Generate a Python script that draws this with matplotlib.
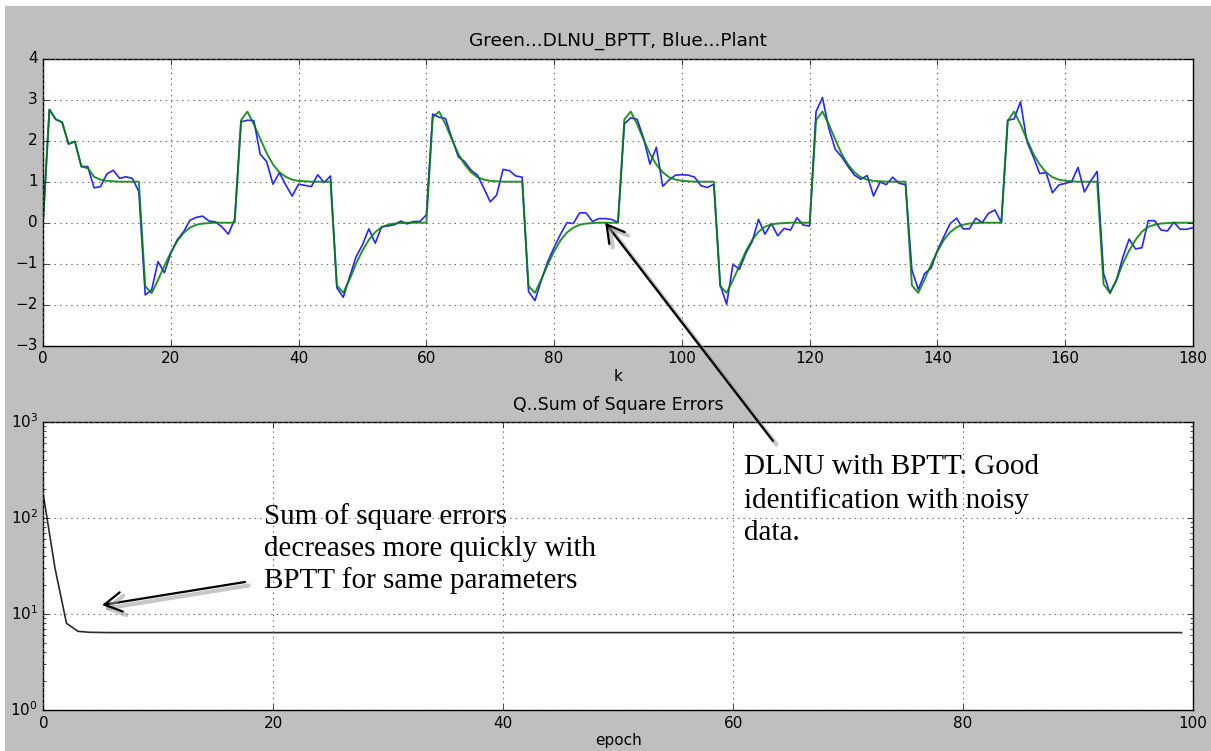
import matplotlib
matplotlib.use('Agg')
import matplotlib.pyplot as plt
import matplotlib.patheffects as pe
from matplotlib.patches import Rectangle
from matplotlib.text import Annotation

# ---------------- data ----------------
k = list(range(181))

plant = [
    0.00, 2.76, 2.52, 2.45, 1.92, 1.98, 1.37, 1.37, 0.85, 0.88,
    1.19, 1.28, 1.08, 1.12, 1.08, 0.76, -1.76, -1.64, -0.95, -1.22,
    -0.75, -0.42, -0.22, 0.06, 0.13, 0.16, 0.04, 0.02, -0.10, -0.28,
    0.08, 2.46, 2.50, 2.49, 1.67, 1.49, 0.94, 1.22, 0.92, 0.65,
    0.94, 0.91, 0.88, 1.17, 0.98, 1.14, -1.59, -1.82, -1.32, -0.83,
    -0.54, -0.15, -0.50, -0.10, -0.08, -0.05, 0.04, -0.03, 0.03, 0.03,
    0.19, 2.65, 2.57, 2.54, 2.06, 1.61, 1.49, 1.28, 1.16, 0.84,
    0.51, 0.67, 1.30, 1.27, 1.14, 1.11, -1.68, -1.90, -1.40, -0.95,
    -0.60, -0.28, 0.00, -0.02, 0.24, 0.24, 0.03, 0.10, 0.10, 0.08,
    0.01, 2.41, 2.56, 2.52, 2.06, 1.43, 1.84, 0.89, 1.04, 1.16,
    1.17, 1.16, 1.11, 0.90, 0.86, 0.94, -1.52, -1.99, -1.01, -1.14,
    -0.75, -0.46, 0.08, -0.28, -0.02, -0.32, -0.14, -0.18, 0.12, -0.06,
    -0.08, 2.71, 3.05, 2.30, 1.79, 1.61, 1.37, 1.16, 1.06, 1.15,
    0.65, 0.99, 0.93, 1.11, 0.96, 0.93, -1.15, -1.63, -1.24, -1.11,
    -0.67, -0.34, -0.02, 0.11, -0.15, -0.15, 0.11, 0.00, 0.23, 0.31,
    0.00, 2.50, 2.53, 2.95, 1.98, 1.61, 1.20, 1.22, 0.73, 0.92,
    0.96, 1.00, 1.35, 0.75, 1.02, 1.25, -1.24, -1.72, -1.41, -0.85,
    -0.40, -0.64, -0.61, 0.05, 0.05, -0.18, -0.20, 0.01, -0.16, -0.16,
    -0.12,
]

model = [
    0.00, 2.76, 2.52, 2.45, 1.92, 1.98, 1.37, 1.33, 1.12, 1.05,
    1.02, 1.01, 1.00, 1.00, 1.00, 1.00, -1.55, -1.72, -1.40, -1.05,
    -0.73, -0.45, -0.25, -0.12, -0.05, -0.02, -0.01, 0.00, 0.00, 0.00,
    0.00, 2.50, 2.71, 2.40, 2.05, 1.70, 1.42, 1.23, 1.12, 1.05,
    1.02, 1.01, 1.00, 1.00, 1.00, 1.00, -1.53, -1.71, -1.38, -1.00,
    -0.68, -0.42, -0.23, -0.11, -0.05, -0.02, -0.01, 0.00, 0.00, 0.00,
    0.00, 2.57, 2.71, 2.40, 2.03, 1.68, 1.42, 1.23, 1.11, 1.05,
    1.02, 1.01, 1.00, 1.00, 1.00, 1.00, -1.55, -1.71, -1.38, -1.02,
    -0.70, -0.43, -0.24, -0.12, -0.05, -0.02, -0.01, 0.00, 0.00, 0.00,
    0.00, 2.52, 2.71, 2.40, 2.03, 1.68, 1.42, 1.23, 1.11, 1.05,
    1.02, 1.01, 1.00, 1.00, 1.00, 1.00, -1.55, -1.71, -1.40, -1.05,
    -0.70, -0.42, -0.22, -0.10, -0.04, -0.02, -0.01, 0.00, 0.00, 0.00,
    0.00, 2.50, 2.71, 2.40, 2.03, 1.68, 1.42, 1.23, 1.11, 1.05,
    1.02, 1.01, 1.00, 1.00, 1.00, 1.00, -1.53, -1.71, -1.38, -1.02,
    -0.70, -0.42, -0.23, -0.11, -0.05, -0.02, -0.01, 0.00, 0.00, 0.00,
    0.00, 2.48, 2.71, 2.40, 2.03, 1.68, 1.42, 1.23, 1.11, 1.05,
    1.02, 1.01, 1.00, 1.00, 1.00, 1.00, -1.50, -1.71, -1.40, -1.00,
    -0.68, -0.42, -0.22, -0.10, -0.05, -0.02, -0.01, 0.00, 0.00, 0.00,
    0.00,
]

epochs = list(range(100))
sse = [
    170.0, 30.0, 8.0, 6.6, 6.45, 6.42, 6.4, 6.4, 6.4, 6.4,
    6.4, 6.4, 6.4, 6.4, 6.4, 6.4, 6.4, 6.4, 6.4, 6.4,
    6.4, 6.4, 6.4, 6.4, 6.4, 6.4, 6.4, 6.4, 6.4, 6.4,
    6.4, 6.4, 6.4, 6.4, 6.4, 6.4, 6.4, 6.4, 6.4, 6.4,
    6.4, 6.4, 6.4, 6.4, 6.4, 6.4, 6.4, 6.4, 6.4, 6.4,
    6.4, 6.4, 6.4, 6.4, 6.4, 6.4, 6.4, 6.4, 6.4, 6.4,
    6.4, 6.4, 6.4, 6.4, 6.4, 6.4, 6.4, 6.4, 6.4, 6.4,
    6.4, 6.4, 6.4, 6.4, 6.4, 6.4, 6.4, 6.4, 6.4, 6.4,
    6.4, 6.4, 6.4, 6.4, 6.4, 6.4, 6.4, 6.4, 6.4, 6.4,
    6.4, 6.4, 6.4, 6.4, 6.4, 6.4, 6.4, 6.4, 6.4, 6.4,
]

title_top = "Green...DLNU_BPTT, Blue...Plant"
title_bottom = "Q..Sum of Square Errors"
note_right = "DLNU with BPTT. Good\nidentification with noisy\ndata."
note_left = "Sum of square errors\ndecreases more quickly with\nBPTT for same parameters"

# ---------------- style ----------------
plt.style.use('classic')
plt.rcParams['font.family'] = ['DejaVu Sans']
plt.rcParams['font.size'] = 11
plt.rcParams['axes.titlesize'] = 13.3
plt.rcParams['axes.labelsize'] = 11

W, H = 1211, 751
fig = plt.figure(figsize=(W / 100, H / 100), dpi=100, facecolor='white')


def fx(px):
    return px / W


def fy(py):
    return 1 - py / H


fig.add_artist(Rectangle((fx(5), 0), 1, fy(6), transform=fig.transFigure,
                         facecolor='#bfbfbf', edgecolor='none', zorder=-5))

# ---------------- top axes ----------------
ax1 = fig.add_axes([fx(43), fy(345.7), (1193 - 43) / W, (345.7 - 58.7) / H])
ax1.plot(k, plant, color='#0000ff', lw=1.2, alpha=0.85)
ax1.plot(k, model, color='#008000', lw=1.4, alpha=0.85)
ax1.set_xlim(0, 180)
ax1.set_ylim(-3, 4)
ax1.grid(True, color='0.4', linestyle=':', lw=0.8)
ax1.set_title(title_top, pad=9)
ax1.set_xlabel('k', labelpad=2)

# ---------------- bottom axes ----------------
ax2 = fig.add_axes([fx(43.5), fy(710), (1193 - 43.5) / W, 288 / H])
ax2.semilogy(epochs, sse, color='#2a2a2a', lw=1.2)
ax2.set_xlim(0, 100)
ax2.set_ylim(1, 1000)
ax2.grid(True, color='0.4', linestyle=':', lw=0.8)
ax2.set_title(title_bottom, fontsize=12.5, pad=9)
ax2.set_xlabel('epoch', labelpad=2)

# ---------------- annotations ----------------
fig.text(fx(744), fy(500), note_right, family='Liberation Serif', fontsize=21,
         ha='left', va='center', linespacing=1.3, zorder=5)
fig.text(fx(264), fy(549), note_left, family='Liberation Serif', fontsize=21,
         ha='left', va='center', linespacing=1.27, zorder=5)

arrow_style = '->,head_length=0.88,head_width=0.5'
shadow = [pe.SimpleLineShadow(offset=(2.5, -2.5), shadow_color='0.6',
                              alpha=0.55, linewidth=3), pe.Normal()]

ann1 = Annotation('', xy=(88, 0), xycoords=ax1.transData,
                  xytext=(fx(773), fy(441)), textcoords='figure fraction',
                  arrowprops=dict(arrowstyle=arrow_style, mutation_scale=14,
                                  lw=1.6, color='black', shrinkA=0, shrinkB=0))
ann1.arrow_patch.set_path_effects(shadow)
ann1.set_zorder(6)
fig.add_artist(ann1)

ann2 = Annotation('', xy=(5.1, 12.4), xycoords=ax2.transData,
                  xytext=(fx(245), fy(582)), textcoords='figure fraction',
                  arrowprops=dict(arrowstyle=arrow_style, mutation_scale=14,
                                  lw=1.6, color='black', shrinkA=0, shrinkB=0))
ann2.arrow_patch.set_path_effects(shadow)
ann2.set_zorder(6)
fig.add_artist(ann2)

fig.savefig('out.png', dpi=100, facecolor=fig.get_facecolor())
